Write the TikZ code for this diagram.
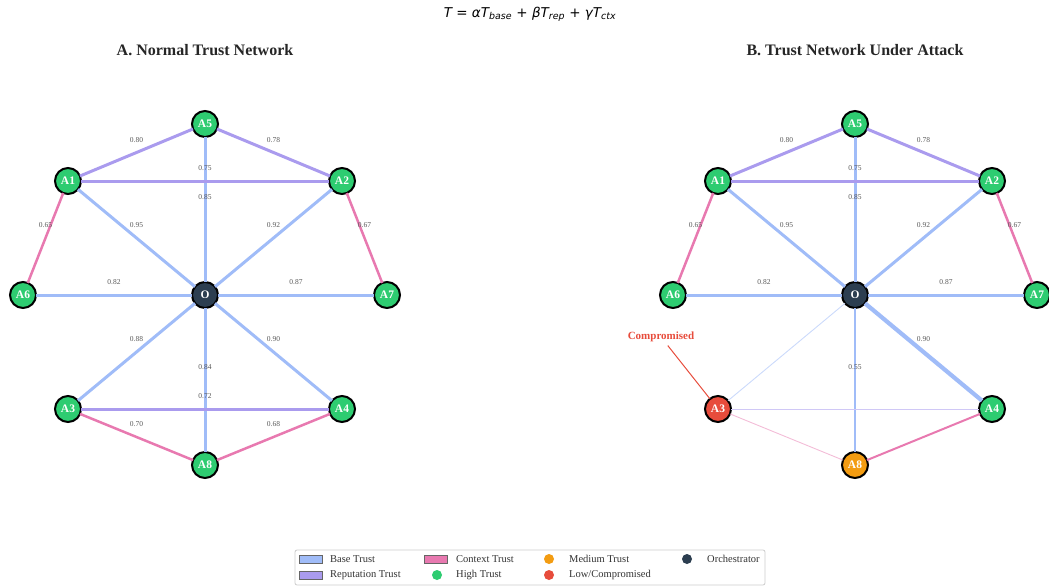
\documentclass[tikz,border=0pt]{standalone}
\usepackage{xcolor}
\usepackage{fontspec}
\usepackage{tkz-graph}
\setmainfont{Liberation Serif}
\newfontfamily\formulafont{DejaVu Sans}

\definecolor{basetrust}{RGB}{160,188,248}
\definecolor{reptrust}{RGB}{170,155,238}
\definecolor{ctxtrust}{RGB}{232,121,176}
\definecolor{hightrust}{RGB}{46,204,113}
\definecolor{medtrust}{RGB}{243,156,18}
\definecolor{lowtrust}{RGB}{231,76,60}
\definecolor{orchcol}{RGB}{44,62,80}

\begin{document}
\begin{tikzpicture}[x=1pt,y=-1pt]
\GraphInit[vstyle=Normal]
\tikzset{
  agent/.style={circle, draw=black, line width=2pt,
    minimum size=26pt, inner sep=0pt, text=white,
    font=\fontsize{11.5}{12}\selectfont\bfseries},
  weight/.style={fill=none, draw=none, inner sep=0pt, text=black!65,
    font=\fontsize{7.5}{8}\selectfont, yshift=12.5pt},
  title/.style={font=\fontsize{16}{18}\selectfont\bfseries, text=black!85},
  patch/.style={draw=black!60, line width=0.6pt, minimum width=23pt,
    minimum height=8pt, inner sep=0pt},
  dot/.style={circle, minimum size=10pt, inner sep=0pt},
  entry/.style={anchor=west, inner sep=0pt,
    font=\fontsize{10.5}{12}\selectfont, text=black!80},
  LabelStyle/.style={weight}
}
\useasboundingbox (0,0) rectangle (1049,586);

\node (formula) at (530,14) {\formulafont\fontsize{13.5}{15}\selectfont
  \itshape T \upshape= \itshape αT\textsubscript{base} \upshape+
  \itshape βT\textsubscript{rep} \upshape+ \itshape γT\textsubscript{ctx}};

\node[title] (titleA) at (205,50) {A. Normal Trust Network};
\node[title] (titleB) at (855,50) {B. Trust Network Under Attack};

% A : normal network
\tikzset{VertexStyle/.style={agent,fill=orchcol}}
\Vertex[x=205,y=295,L=O]{oa}
\tikzset{VertexStyle/.style={agent,fill=hightrust}}
\Vertex[x=205,y=124,L=A5]{a5}
\Vertex[x=68,y=181,L=A1]{a1}
\Vertex[x=342,y=181,L=A2]{a2}
\Vertex[x=23,y=295,L=A6]{a6}
\Vertex[x=387,y=295,L=A7]{a7}
\Vertex[x=68,y=409,L=A3]{a3}
\Vertex[x=342,y=409,L=A4]{a4}
\Vertex[x=205,y=465,L=A8]{a8}
\tikzset{EdgeStyle/.style={draw=basetrust,line width=3pt}}
\Edge[label=0.95](oa)(a1)
\Edge[label=0.92](oa)(a2)
\Edge[label=0.85](oa)(a5)
\Edge[label=0.82](oa)(a6)
\Edge[label=0.87](oa)(a7)
\Edge[label=0.88](oa)(a3)
\Edge[label=0.90](oa)(a4)
\Edge[label=0.84](oa)(a8)
\tikzset{EdgeStyle/.style={draw=reptrust,line width=3pt}}
\Edge[label=0.80](a1)(a5)
\Edge[label=0.78](a5)(a2)
\Edge[label=0.75](a1)(a2)
\Edge[label=0.72](a3)(a4)
\tikzset{EdgeStyle/.style={draw=ctxtrust,line width=2.5pt}}
\Edge[label=0.65](a1)(a6)
\Edge[label=0.67](a2)(a7)
\Edge[label=0.70](a3)(a8)
\Edge[label=0.68](a4)(a8)

% B : A3 compromised, A8 degraded
\tikzset{VertexStyle/.style={agent,fill=orchcol}}
\Vertex[x=855,y=295,L=O]{ob}
\tikzset{VertexStyle/.style={agent,fill=hightrust}}
\Vertex[x=855,y=124,L=A5]{b5}
\Vertex[x=718,y=181,L=A1]{b1}
\Vertex[x=992,y=181,L=A2]{b2}
\Vertex[x=673,y=295,L=A6]{b6}
\Vertex[x=1037,y=295,L=A7]{b7}
\Vertex[x=992,y=409,L=A4]{b4}
\tikzset{VertexStyle/.style={agent,fill=lowtrust}}
\Vertex[x=718,y=409,L=A3]{b3}
\tikzset{VertexStyle/.style={agent,fill=medtrust}}
\Vertex[x=855,y=465,L=A8]{b8}
\tikzset{EdgeStyle/.style={draw=basetrust,line width=3pt}}
\Edge[label=0.95](ob)(b1)
\Edge[label=0.92](ob)(b2)
\Edge[label=0.85](ob)(b5)
\Edge[label=0.82](ob)(b6)
\Edge[label=0.87](ob)(b7)
\tikzset{EdgeStyle/.style={draw=basetrust,line width=4.2pt}}
\Edge[label=0.90](ob)(b4)
\tikzset{EdgeStyle/.style={draw=basetrust,line width=2pt}}
\Edge[label=0.55](ob)(b8)
\tikzset{EdgeStyle/.style={draw=basetrust!55,line width=0.9pt}}
\Edge(ob)(b3)
\tikzset{EdgeStyle/.style={draw=reptrust,line width=3pt}}
\Edge[label=0.80](b1)(b5)
\Edge[label=0.78](b5)(b2)
\Edge[label=0.75](b1)(b2)
\tikzset{EdgeStyle/.style={draw=reptrust!55,line width=0.9pt}}
\Edge(b3)(b4)
\tikzset{EdgeStyle/.style={draw=ctxtrust,line width=2pt}}
\Edge(b4)(b8)
\tikzset{EdgeStyle/.style={draw=ctxtrust,line width=2.5pt}}
\Edge[label=0.65](b1)(b6)
\Edge[label=0.67](b2)(b7)
\tikzset{EdgeStyle/.style={draw=ctxtrust!50,line width=0.9pt}}
\Edge(b3)(b8)

\node[font=\fontsize{11}{13}\selectfont\bfseries, text=lowtrust,
  inner sep=1pt] (comp) at (661,337) {Compromised};
\draw[lowtrust, line width=1pt, shorten <=3pt] (comp) -- (b3);

% legend
\node[draw=black!20, line width=0.8pt, rounded corners=2pt, fill=white,
  minimum width=470pt, minimum height=35pt] (legend) at (530,567.5) {};
\node[patch, fill=basetrust] (pbase) at (310.5,559) {};
\node[entry] (tbase) at (330,559) {Base Trust};
\node[patch, fill=reptrust] (prep) at (310.5,575) {};
\node[entry] (trep) at (330,575) {Reputation Trust};
\node[patch, fill=ctxtrust] (pctx) at (436,559) {};
\node[entry] (tctx) at (456,559) {Context Trust};
\node[dot, fill=hightrust] (dhigh) at (437,575) {};
\node[entry] (thigh) at (456,575) {High Trust};
\node[dot, fill=medtrust] (dmed) at (549,559) {};
\node[entry] (tmed) at (569,559) {Medium Trust};
\node[dot, fill=lowtrust] (dlow) at (549,575) {};
\node[entry] (tlow) at (569,575) {Low/Compromised};
\node[dot, fill=orchcol] (dorch) at (687,559) {};
\node[entry] (torch) at (707,559) {Orchestrator};
\end{tikzpicture}
\end{document}
